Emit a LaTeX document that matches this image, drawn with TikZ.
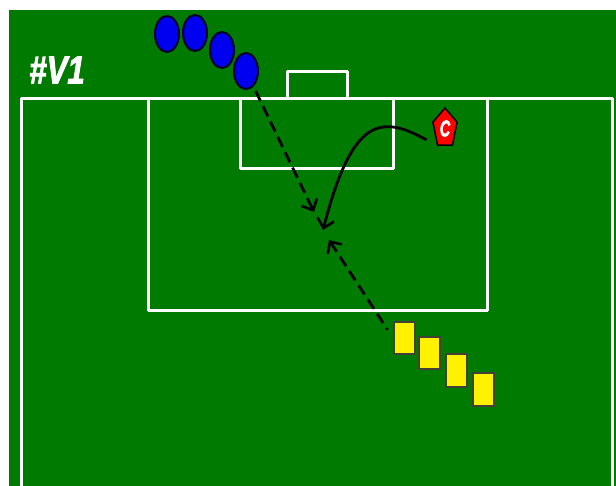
\documentclass[tikz,border=0pt]{standalone}
\usepackage{fontspec}
\setmainfont{Liberation Sans}
\newfontfamily\heavyfont[BoldItalicFeatures={FakeBold=2.5}]{Liberation Sans}
\usepackage{xcolor}
\usepackage{tikz}
\usetikzlibrary{positioning, shapes.geometric, arrows.meta}

\definecolor{pitchgreen}{RGB}{0,122,0}
\definecolor{bluecone}{RGB}{0,0,240}

\begin{document}
\begin{tikzpicture}[x=1pt, y=-1pt,
          line/.style={draw=white, line width=3pt, line join=round},
          blue player/.style={ellipse, draw=black!85!blue, line width=2pt, fill=bluecone, minimum width=24pt, minimum height=36pt, inner sep=0pt},
          yellow player/.style={rectangle, draw=black!85!yellow, line width=2pt, fill=yellow, minimum width=21pt, minimum height=32pt, inner sep=0pt},
          run/.style={draw=black, line width=2.8pt, dash pattern=on 11pt off 6pt, -{Straight Barb[length=9pt, width=17pt, line width=2.6pt]}},
          shot/.style={draw=black, line width=2.8pt, -{Straight Barb[length=9pt, width=17pt, line width=2.6pt]}}]
          \useasboundingbox (0,0) rectangle (616,486);
          \fill[pitchgreen] (9,10) rectangle (616,486);

          % pitch
          \draw[line] (21,486) -- (21,98.5) -- (612.5,98.5) -- (612.5,486);
          \draw[line] (148,98.5) -- (148,311) -- (487,311) -- (487,98.5);
          \draw[line] (240,98.5) -- (240,168.5) -- (393,168.5) -- (393,98.5);
          \draw[line] (287,98.5) -- (287,71.5) -- (347,71.5) -- (347,98.5);

          \node[text=white, font=\heavyfont\bfseries\itshape\fontsize{39}{39}\selectfont, xscale=0.8, inner sep=0pt] (title) at (57,70) {\#V1};

          % blue players
          \node[blue player] (b1) at (167,34) {};
          \node[blue player] (b2) at (195,33) {};
          \node[blue player] (b3) at (222,50) {};
          \node[blue player] (b4) at (246,71) {};

          % yellow players
          \node[yellow player] (y1) at (404.5,338) {};
          \node[yellow player] (y2) at (429.5,353.5) {};
          \node[yellow player] (y3) at (456.5,370.5) {};
          \node[yellow player] (y4) at (483.5,389.5) {};

          % coach
          \node[regular polygon, regular polygon sides=5, draw=black, line width=1.5pt, fill=red, text=white, font=\heavyfont\bfseries\itshape\fontsize{23}{23}\selectfont, minimum size=41pt, inner sep=0pt, xscale=0.62] (coach) at (445,128.5) {C};

          \coordinate (r1) at (314,212);
          \coordinate (r2) at (329,240);
          \coordinate (s1) at (323,230);

          \draw[run, shorten <=5pt] (b4) -- (r1);
          \draw[run, dash phase=9pt, shorten <=10pt] (y1.west) -- (r2);
          \draw[shot, shorten <=12pt] (coach.corner 3) .. controls (380,114) and (352,118) .. (s1);
        \end{tikzpicture}
\end{document}
